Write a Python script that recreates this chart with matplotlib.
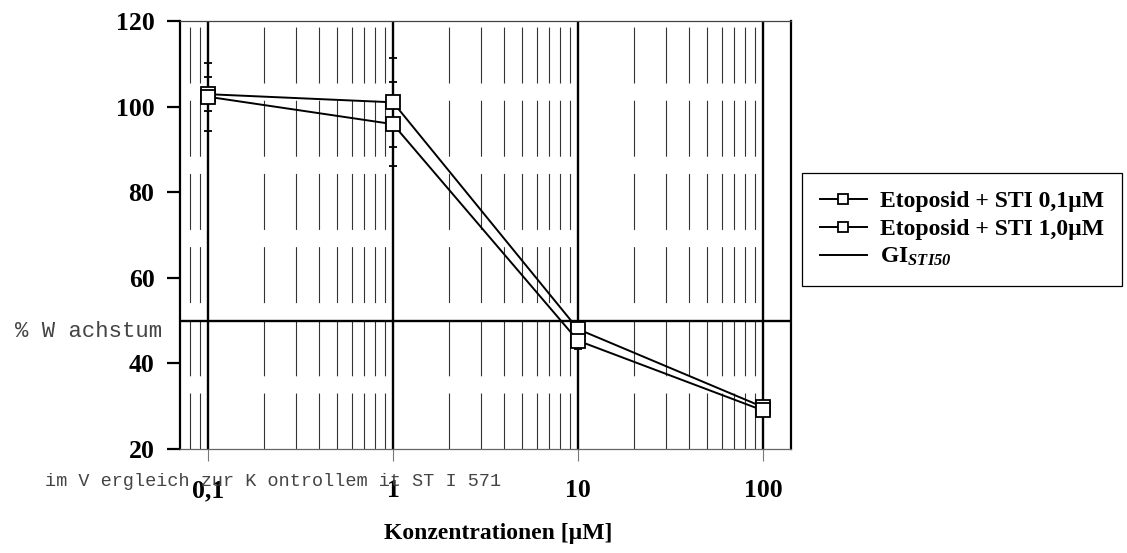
import matplotlib
matplotlib.use("Agg")
import matplotlib.pyplot as plt
from matplotlib.ticker import LogLocator, FixedLocator, NullFormatter

plt.rcParams['lines.scale_dashes'] = False
plt.rcParams['mathtext.fontset'] = 'custom'
plt.rcParams['mathtext.it'] = 'Liberation Serif:italic:bold'
plt.rcParams['mathtext.rm'] = 'Liberation Serif:italic:bold'

# ---- data ----
concentrations = [0.1, 1, 10, 100]
tick_labels = ["0,1", "1", "10", "100"]
sti_01_values = [102.9, 101.0, 48.0, 29.8]
sti_01_errors = [3.9, 10.4, 1.0, 0.5]
sti_10_values = [102.3, 95.9, 45.3, 29.0]
sti_10_errors = [8.0, 9.8, 2.0, 0.5]
gi50_level = 50
y_ticks = [20, 40, 60, 80, 100, 120]
series_labels = ["Etoposid + STI 0,1\u00b5M", "Etoposid + STI 1,0\u00b5M",
                 "GI$_{\\mathrm{STI50}}$"]

W, H = 1127, 553
fig = plt.figure(figsize=(W / 100, H / 100), dpi=100)
ax = fig.add_axes([180 / W, 1 - 449 / H, (791 - 180) / W, (449 - 21) / H])

ax.set_xscale('log')
ax.set_xlim(0.0706, 141.6)
ax.set_ylim(20, 120)

# grid
ax.xaxis.set_major_locator(FixedLocator(concentrations))
ax.xaxis.set_minor_locator(LogLocator(base=10, subs=range(2, 10), numticks=20))
ax.xaxis.set_minor_formatter(NullFormatter())
ax.set_xticks(concentrations)
ax.set_xticklabels(tick_labels)
ax.grid(which='major', axis='x', color='black', lw=1.7, linestyle='-')
ax.grid(which='minor', axis='x', color='#333333', lw=0.8,
        linestyle=(0, (40.3, 12.4)))
ax.set_axisbelow(True)

ax.axhline(gi50_level, color='black', lw=1.7, zorder=2)

common = dict(color='black', lw=1.4, marker='s', markersize=9.5,
              markerfacecolor='white', markeredgecolor='black',
              markeredgewidth=1.3, ecolor='black', elinewidth=1.3,
              capsize=3, capthick=1.5, zorder=4)
c1 = ax.errorbar(concentrations, sti_01_values, yerr=sti_01_errors, **common)
c2 = ax.errorbar(concentrations, sti_10_values, yerr=sti_10_errors, **common)
gi_handle = plt.Line2D([], [], color='black', lw=1.4)

# ticks
serif_bold = dict(family='Liberation Serif', weight='bold', size=18.5)
ax.set_yticks(y_ticks)
ax.set_yticklabels([str(v) for v in y_ticks], fontdict=serif_bold)
ax.set_xticklabels(tick_labels, fontdict=serif_bold)
ax.tick_params(axis='y', which='major', direction='out', length=9.4,
               width=1.6, color='black', pad=9)
ax.tick_params(axis='x', which='major', direction='out', length=8.6,
               width=0.8, color='#777777', pad=13)
ax.tick_params(axis='x', which='minor', length=0)

for side, lw, col in [('left', 1.6, 'black'), ('right', 1.6, 'black'),
                      ('top', 0.9, '#444444'), ('bottom', 0.9, '#666666')]:
    ax.spines[side].set_linewidth(lw)
    ax.spines[side].set_color(col)

# labels
fig.text(498 / W, 1 - 533 / H, "Konzentrationen [\u00b5M]", ha='center',
         va='center', family='Liberation Serif', weight='bold', size=17)
fig.text(15 / W, 1 - 337 / H, "% W achstum", ha='left', va='baseline',
         family='Liberation Mono', size=16, color='#444444')
fig.text(45 / W, 1 - 486 / H, "im V ergleich zur K ontrollem it ST I 571",
         ha='left', va='baseline', family='Liberation Mono', size=13.3,
         color='#444444', zorder=0)

leg = fig.legend([c1[0], c2[0], gi_handle], series_labels,
                 loc='upper left', bbox_to_anchor=(802 / W, 1 - 173 / H),
                 prop=dict(family='Liberation Serif', weight='bold', size=17),
                 frameon=True, fancybox=False, framealpha=1, edgecolor='black',
                 handlelength=2.0, handletextpad=0.55, labelspacing=0.26,
                 borderpad=0.75, borderaxespad=0, markerscale=0.75, numpoints=1)
leg.get_frame().set_linewidth(0.9)

fig.savefig("out.png", dpi=100)
